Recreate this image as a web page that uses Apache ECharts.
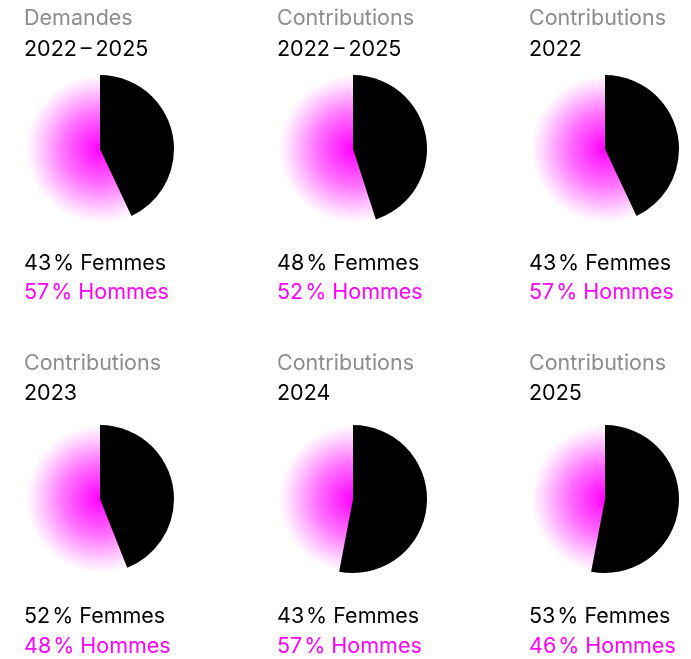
<!DOCTYPE html>
<html>
<head>
<meta charset="utf-8">
<script src="https://cdn.jsdelivr.net/npm/echarts@6/dist/echarts.min.js"></script>
<style>
  body { margin: 0; background: #fff; }
  #chart { width: 691px; height: 659px; }
</style>
</head>
<body>
<div id="chart"></div>
<script>
// data
const panelTitles = ["Demandes", "Contributions", "Contributions", "Contributions", "Contributions", "Contributions"];
const panelPeriods = ["2022\u2009\u2013\u20092025", "2022\u2009\u2013\u20092025", "2022", "2023", "2024", "2025"];
const pieFemmes = [43, 45, 43, 44, 53, 53];
// numbers printed under each pie
const labelFemmes = [43, 48, 43, 52, 43, 53];
const labelHommes = [57, 52, 57, 48, 57, 46];

const MAGENTA = "#ff00ff";
const FONT = "21.5px Inter, 'Liberation Sans', sans-serif";

// layout
const colLeft = [24, 277, 529];
const rows = [
  { title: 19, period: 50, pie: 149, femmes: 264, hommes: 293 },
  { title: 364, period: 394, pie: 499, femmes: 617, hommes: 647 }
];
const pieOffset = 76;
const pieRadius = 74;

const myChart = echarts.init(document.getElementById("chart"), null, { renderer: "canvas" });

let series = [];
let graphics = [];

panelTitles.forEach(function (t, i) {
  const col = i % 3;
  const row = rows[Math.floor(i / 3)];
  const center = [colLeft[col] + pieOffset, row.pie];

  // gradient disc (hommes)
  series.push({
    type: "pie",
    silent: true,
    center: center,
    radius: pieRadius,
    label: { show: false },
    labelLine: { show: false },
    emphasis: { disabled: true },
    itemStyle: {
      borderWidth: 0,
      color: {
        type: "radial", x: 0.5, y: 0.5, r: 0.5,
        colorStops: [
          { offset: 0, color: "rgba(255,0,255,1)" },
          { offset: 0.5, color: "rgba(255,0,255,0.55)" },
          { offset: 0.85, color: "rgba(255,0,255,0.15)" },
          { offset: 1, color: "rgba(255,0,255,0)" }
        ]
      }
    },
    data: [{ value: 1, name: "Hommes" }]
  });

  // black slice (femmes)
  series.push({
    type: "pie",
    silent: true,
    center: center,
    radius: pieRadius,
    startAngle: 90,
    clockwise: true,
    label: { show: false },
    labelLine: { show: false },
    emphasis: { disabled: true },
    itemStyle: { borderWidth: 0 },
    data: [
      { value: pieFemmes[i], name: "Femmes", itemStyle: { color: "#000" } },
      { value: 100 - pieFemmes[i], name: "Hommes", itemStyle: { color: "rgba(0,0,0,0)" } }
    ]
  });

  const x = colLeft[col];
  graphics.push(
    { type: "text", x: x, y: row.title, style: { text: t, fill: "#8c8c8c", font: FONT, verticalAlign: "middle" } },
    { type: "text", x: x, y: row.period, style: { text: panelPeriods[i], fill: "#000", font: FONT, verticalAlign: "middle" } },
    { type: "text", x: x, y: row.femmes, style: { text: labelFemmes[i] + "\u200A% Femmes", fill: "#000", font: FONT, verticalAlign: "middle" } },
    { type: "text", x: x, y: row.hommes, style: { text: labelHommes[i] + "\u200A% Hommes", fill: MAGENTA, font: FONT, verticalAlign: "middle" } }
  );
});

myChart.setOption({
  animation: false,
  backgroundColor: "#fff",
  series: series,
  graphic: graphics
});
</script>
</body>
</html>
